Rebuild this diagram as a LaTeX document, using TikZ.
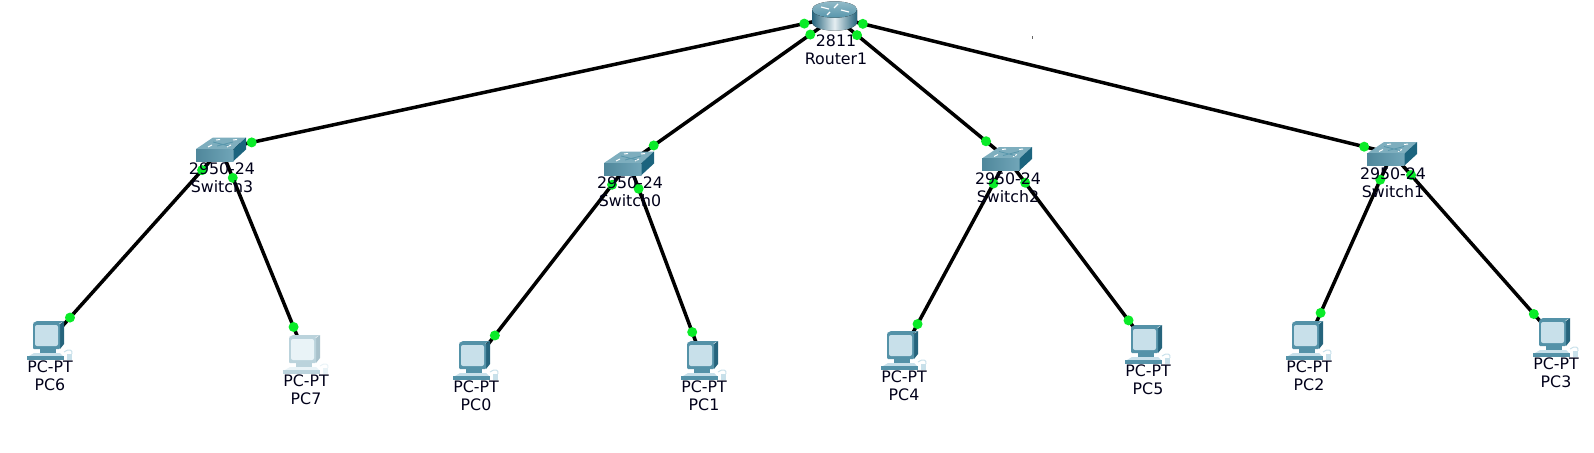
\documentclass[tikz,border=0pt]{standalone}
\usepackage{fontspec}
\setmainfont{DejaVu Sans}
\usetikzlibrary{calc}

\definecolor{linkdotgreen}{RGB}{10,235,40}
\definecolor{pcteal}{RGB}{84,146,168}
\definecolor{pcdeep}{RGB}{38,100,124}
\definecolor{pcscreen}{RGB}{200,224,234}
\definecolor{swtop}{RGB}{126,174,190}
\definecolor{swfront}{RGB}{88,150,172}
\definecolor{swside}{RGB}{28,100,126}

\begin{document}
\begin{tikzpicture}[
    x=1pt, y=-1pt,
    link/.style={draw=black, line width=3.5pt},
    linkdot/.style={circle, fill=linkdotgreen, inner sep=0pt, minimum size=10pt},
    devlabel/.style={align=center, font=\fontsize{15.8}{18.2}\selectfont, inner sep=0pt, text=black!90!blue},
    pics/switchicon/.style={code={
        \fill[swtop] (-25,0) -- (-8,-11.5) -- (25,-11.5) -- (12.5,0) -- cycle;
        \fill[left color=swfront!90!black, right color=swfront!85!white] (-25,0) rectangle (12.5,12);
        \fill[swside] (12.5,0) -- (25,-11.5) -- (25,0.5) -- (12.5,12) -- cycle;
        \draw[white, line width=1pt] (-13,-2) -- (-9,-4) (6,-2) -- (10,-4) (-5,-9) -- (-1,-9.5) (12,-9) -- (16,-9.5);
        \draw[swfront, line width=.8pt] (-8,-7) -- (8,-3) (-4,-3) -- (12,-7);
    }},
    pics/routericon/.style={code={
        \fill[left color=pcdeep, right color=pcdeep, middle color=white!85!pcteal]
            (-23,-7) -- (-23,5) arc[start angle=180, end angle=0, x radius=22.5, y radius=8.7]
            -- (22,-7) -- cycle;
        \fill[top color=swtop!85!white, bottom color=swfront] (-0.5,-7.5) ellipse[x radius=22.5, y radius=8.2];
        \draw[white, line width=1.2pt] (-14,-10) -- (-6,-8) (6,-7) -- (14,-5) (3,-13) -- (-1,-9) (-5,-5) -- (-8,-2);
    }},
    pics/pcicon/.default=100,
    pics/pcicon/.style={code={
        % monitor
        \fill[pcdeep!#1!white] (11,-17) -- (15,-20) -- (15,3) -- (11,8) -- cycle;
        \fill[pcteal!#1!white] (-16,-18) -- (-12,-20) -- (15,-20) -- (11,-18) -- cycle;
        \fill[pcteal!#1!white, rounded corners=1pt] (-16,-18) rectangle (11,8);
        \fill[pcscreen!#1!white, rounded corners=2pt] (-14,-16) rectangle (9,5);
        % stand and base
        \fill[pcteal!#1!white] (-9,8) rectangle (7,12);
        \fill[pcscreen!#1!white] (-15,12) -- (11,12) -- (14,15) -- (-20,15) -- cycle;
        \fill[pcteal!#1!white] (-22,15) rectangle (15,19);
        % mouse
        \draw[pcscreen!#1!white, line width=1pt] (15,11) .. controls (20,7) and (24,9) .. (23,13);
        \fill[pcscreen!#1!white] (18,13) rectangle (23,19);
    }}
]

% devices
\useasboundingbox (0,0) rectangle (1594,452);
\coordinate (router) at (835,17);
\coordinate (switch3) at (221,149);
\coordinate (switch0) at (629,163);
\coordinate (switch2) at (1007,158.5);
\coordinate (switch1) at (1392,153.5);
\coordinate (pc6) at (49,341);
\coordinate (pc7) at (305,355);
\coordinate (pc0) at (475,361);
\coordinate (pc1) at (703,361);
\coordinate (pc4) at (903,351);
\coordinate (pc5) at (1147,345);
\coordinate (pc2) at (1308,341);
\coordinate (pc3) at (1555,338);

% router to switches
\draw[link] (router) -- node[linkdot, pos=.05] (dotra) {} node[linkdot, pos=.95] (dotsa) {} (switch3);
\draw[link] (router) -- node[linkdot, pos=.12] (dotrb) {} node[linkdot, pos=.88] (dotsb) {} (switch0);
\draw[link] (router) -- node[linkdot, pos=.128] (dotrc) {} node[linkdot, pos=.878] (dotsc) {} (switch2);
\draw[link] (router) -- node[linkdot, pos=.05] (dotrd) {} node[linkdot, pos=.95] (dotsd) {} (switch1);

% switches to PCs
\draw[link] (switch3) -- node[linkdot, pos=.11] (dot6a) {} node[linkdot, pos=.878] (dot6b) {} (pc6);
\draw[link] (switch3) -- node[linkdot, pos=.14] (dot7a) {} node[linkdot, pos=.864] (dot7b) {} (pc7);
\draw[link] (switch0) -- node[linkdot, pos=.11] (dot0a) {} node[linkdot, pos=.871] (dot0b) {} (pc0);
\draw[link] (switch0) -- node[linkdot, pos=.13] (dot1a) {} node[linkdot, pos=.854] (dot1b) {} (pc1);
\draw[link] (switch2) -- node[linkdot, pos=.13] (dot4a) {} node[linkdot, pos=.86] (dot4b) {} (pc4);
\draw[link] (switch2) -- node[linkdot, pos=.13] (dot5a) {} node[linkdot, pos=.868] (dot5b) {} (pc5);
\draw[link] (switch1) -- node[linkdot, pos=.14] (dot2a) {} node[linkdot, pos=.85] (dot2b) {} (pc2);
\draw[link] (switch1) -- node[linkdot, pos=.117] (dot3a) {} node[linkdot, pos=.87] (dot3b) {} (pc3);

% icons
\pic at (router) {routericon};
\pic at (switch3) {switchicon};
\pic at (switch0) {switchicon};
\pic at (switch2) {switchicon};
\pic at (switch1) {switchicon};
\pic at (pc6) {pcicon};
\pic at (pc7) {pcicon=40};
\pic at (pc0) {pcicon};
\pic at (pc1) {pcicon};
\pic at (pc4) {pcicon};
\pic at (pc5) {pcicon};
\pic at (pc2) {pcicon};
\pic at (pc3) {pcicon};

% stray mark
\fill[black!60] (1032,36) rectangle (1033,39);

% labels
\node[devlabel] (routerlabel) at ($(router)+(1,33)$) {2811\\Router1};
\node[devlabel] (switch3label) at ($(switch3)+(1,29)$) {2950-24\\Switch3};
\node[devlabel] (switch0label) at ($(switch0)+(1,29)$) {2950-24\\Switch0};
\node[devlabel] (switch2label) at ($(switch2)+(1,29)$) {2950-24\\Switch2};
\node[devlabel] (switch1label) at ($(switch1)+(1,29)$) {2950-24\\Switch1};
\node[devlabel] (pc6label) at ($(pc6)+(1,35)$) {PC-PT\\PC6};
\node[devlabel] (pc7label) at ($(pc7)+(1,35)$) {PC-PT\\PC7};
\node[devlabel] (pc0label) at ($(pc0)+(1,35)$) {PC-PT\\PC0};
\node[devlabel] (pc1label) at ($(pc1)+(1,35)$) {PC-PT\\PC1};
\node[devlabel] (pc4label) at ($(pc4)+(1,35)$) {PC-PT\\PC4};
\node[devlabel] (pc5label) at ($(pc5)+(1,35)$) {PC-PT\\PC5};
\node[devlabel] (pc2label) at ($(pc2)+(1,35)$) {PC-PT\\PC2};
\node[devlabel] (pc3label) at ($(pc3)+(1,35)$) {PC-PT\\PC3};

\end{tikzpicture}
\end{document}
